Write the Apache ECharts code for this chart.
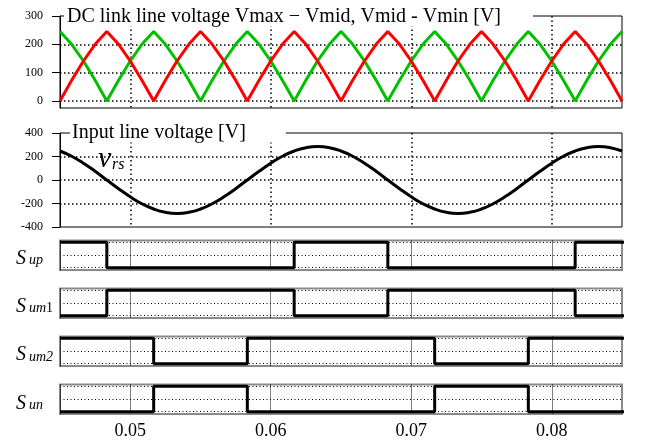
<!DOCTYPE html>
<html><head><meta charset="utf-8">
<script src="https://cdn.jsdelivr.net/npm/echarts@6/dist/echarts.min.js"></script>
<style>html,body{margin:0;padding:0;background:#fff}#c{width:646px;height:441px}</style>
</head><body><div id="c"></div>
<script>
// ---- data ----
const time = [0.04500,0.04583,0.04667,0.04750,0.04833,0.04917,0.05000,0.05083,0.05167,0.05250,
  0.05333,0.05417,0.05500,0.05583,0.05667,0.05750,0.05833,0.05917,0.06000,0.06083,
  0.06167,0.06250,0.06333,0.06417,0.06500,0.06583,0.06667,0.06750,0.06833,0.06917,
  0.07000,0.07083,0.07167,0.07250,0.07333,0.07417,0.07500,0.07583,0.07667,0.07750,
  0.07833,0.07917,0.08000,0.08083,0.08167,0.08250,0.08333,0.08417,0.08500];
const dcRed = [0,73,141,200,245,200,141,73, 0,73,141,200,245,200,141,73,
  0,73,141,200,245,200,141,73, 0,73,141,200,245,200,141,73,
  0,73,141,200,245,200,141,73, 0,73,141,200,245,200,141,73, 0];
const dcGreen = [245,200,141,73,0,73,141,200, 245,200,141,73,0,73,141,200,
  245,200,141,73,0,73,141,200, 245,200,141,73,0,73,141,200,
  245,200,141,73,0,73,141,200, 245,200,141,73,0,73,141,200, 245];
const vrs = [247,202,143,74,0,-74,-143,-202,-247,-275,-285,-275,-247,-202,-143,-74,
  0,74,143,202,247,275,285,275, 247,202,143,74,0,-74,-143,-202,-247,-275,-285,-275,
  -247,-202,-143,-74,0,74,143,202,247,275,285,275,247];
const swTimesA = [0.045, 0.048333, 0.061667, 0.068333, 0.081667, 0.0864];
const swTimesB = [0.045, 0.051667, 0.058333, 0.071667, 0.078333, 0.0864];
const sUp  = [1,0,1,0,1,1];
const sUm1 = [0,1,0,1,0,0];
const sUm2 = [1,0,1,0,1,1];
const sUn  = [0,1,0,1,0,0];
const xTickLabels = ['0.05','0.06','0.07','0.08'];
const dcTicks = [0,100,200,300];
const acTicks = [-400,-200,0,200,400];
const titles = ['DC link line voltage Vmax \u2212 Vmid, Vmid - Vmin [V]', 'Input line voltage [V]'];

// ---- chart ----
const FONT = 'Liberation Serif';
const chart = echarts.init(document.getElementById('c'), null, {renderer:'canvas'});
const pair = (xs, ys) => xs.map((t, i) => [t, ys[i]]);

const gridTops = [16, 133, 240.5, 288.5, 336.5, 384.5];
const gridHeights = [92, 94, 29.5, 29.5, 29.5, 29.5];
const grid = gridTops.map((t, i) => ({
  left: 60, right: 24, top: t, height: gridHeights[i], show: true,
  borderColor: i < 2 ? '#000' : '#8a8a8a', borderWidth: i < 2 ? 1 : 2
}));

const xAxis = gridTops.map((t, i) => ({
  type: 'value', gridIndex: i, min: 0.045, max: 0.085, splitNumber: 4,
  axisLine: {show: false}, axisTick: {show: false},
  axisLabel: {show: i === 5, showMinLabel: false, showMaxLabel: false, margin: 8,
    fontFamily: FONT, fontSize: 18, color: '#000',
    formatter: v => xTickLabels.find(s => Math.abs(parseFloat(s) - v) < 1e-6) || ''},
  splitLine: {show: true, showMinLine: false, showMaxLine: false,
    lineStyle: i < 2 ? {color: '#000', width: 1.5, type: [1.5, 3]} : {color: '#000', width: 1, type: [1, 1]}}
}));

const yLabelStyle = {fontFamily: FONT, fontSize: 12, color: '#000', margin: 17};
const yAxis = [
  {type: 'value', gridIndex: 0, min: -25, max: 300, splitNumber: 3,
    axisLine: {show: true, lineStyle: {color: '#000', width: 1}},
    axisTick: {show: true, length: 8, lineStyle: {color: '#000'}, customValues: dcTicks},
    axisLabel: Object.assign({customValues: dcTicks}, yLabelStyle),
    splitLine: {show: true, showMinLine: true, showMaxLine: false, lineStyle: {color: '#000', width: 1.5, type: [1.5, 2.5]}}},
  {type: 'value', gridIndex: 1, min: -400, max: 400, splitNumber: 4,
    axisLine: {show: true, lineStyle: {color: '#000', width: 1}},
    axisTick: {show: true, length: 8, lineStyle: {color: '#000'}, customValues: acTicks},
    axisLabel: Object.assign({customValues: acTicks}, yLabelStyle),
    splitLine: {show: true, showMinLine: false, showMaxLine: false, lineStyle: {color: '#000', width: 1.5, type: [1.5, 2.5]}}}
];
for (let i = 2; i < 6; i++) {
  yAxis.push({type: 'value', gridIndex: i, min: -0.09, max: 1.07, splitNumber: 2,
    axisLine: {show: true, lineStyle: {color: '#333', width: 1}},
    axisTick: {show: false}, axisLabel: {show: false},
    splitLine: {show: true, showMinLine: false, showMaxLine: false, lineStyle: {color: '#000', width: 1, type: [1, 2.5]}}});
}

const lineBase = {type: 'line', showSymbol: false, symbol: 'none', silent: true, animation: false};
const swSeries = (idx, xs, ys) => Object.assign({}, lineBase, {
  xAxisIndex: idx, yAxisIndex: idx, step: 'end', clip: false, z: 5,
  data: pair(xs, ys), lineStyle: {color: '#000', width: 3}
});
const series = [
  Object.assign({}, lineBase, {xAxisIndex: 0, yAxisIndex: 0, data: pair(time, dcGreen), lineStyle: {color: '#00c000', width: 3}}),
  Object.assign({}, lineBase, {xAxisIndex: 0, yAxisIndex: 0, data: pair(time, dcRed), lineStyle: {color: '#ff0000', width: 3}}),
  Object.assign({}, lineBase, {xAxisIndex: 1, yAxisIndex: 1, data: pair(time, vrs), smooth: 0.5, lineStyle: {color: '#000', width: 3}}),
  swSeries(2, swTimesA, sUp),
  swSeries(3, swTimesA, sUm1),
  swSeries(4, swTimesB, sUm2),
  swSeries(5, swTimesB, sUn)
];

const titleStyle = {fontFamily: FONT, fontSize: 20, fontWeight: 'normal', color: '#000', lineHeight: 20};
const title = [
  {text: titles[0], left: 64, top: 6.5, padding: [0, 32, 0, 3], backgroundColor: '#fff', textStyle: titleStyle},
  {text: titles[1], left: 70, top: 122.5, padding: [0, 40, 0, 2], backgroundColor: '#fff', textStyle: titleStyle}
];

// subscripted labels
const gtext = (x, y, text, size, rich) => ({
  type: 'text', x: x, y: y, z: 100, silent: true,
  style: {text: text, font: 'italic ' + size + 'px "Liberation Serif"', fill: '#000', align: 'left', verticalAlign: 'middle', rich: rich}
});
const subRich = {i: {fontFamily: FONT, fontStyle: 'italic', fontSize: 14, color: '#000'},
                 n: {fontFamily: FONT, fontStyle: 'normal', fontSize: 14, color: '#000'}};
const sLabels = [
  {base: 265, sub: '{i|up}'},
  {base: 313.3, sub: '{i|um}{n|1}'},
  {base: 361.7, sub: '{i|um2}'},
  {base: 410, sub: '{i|un}'}
];
const graphic = [];
sLabels.forEach(l => {
  graphic.push(gtext(16, l.base - 6.6, 'S', 20));
  graphic.push(gtext(29, l.base + 0.7 - 5.2, l.sub, 14, subRich));
});
graphic.push(gtext(98, 169.3 - 10.1, 'v', 30));
graphic.push(gtext(112, 170 - 5.4, 'rs', 16));

chart.setOption({animation: false, backgroundColor: '#fff', title, grid, xAxis, yAxis, series, graphic});
</script></body></html>
